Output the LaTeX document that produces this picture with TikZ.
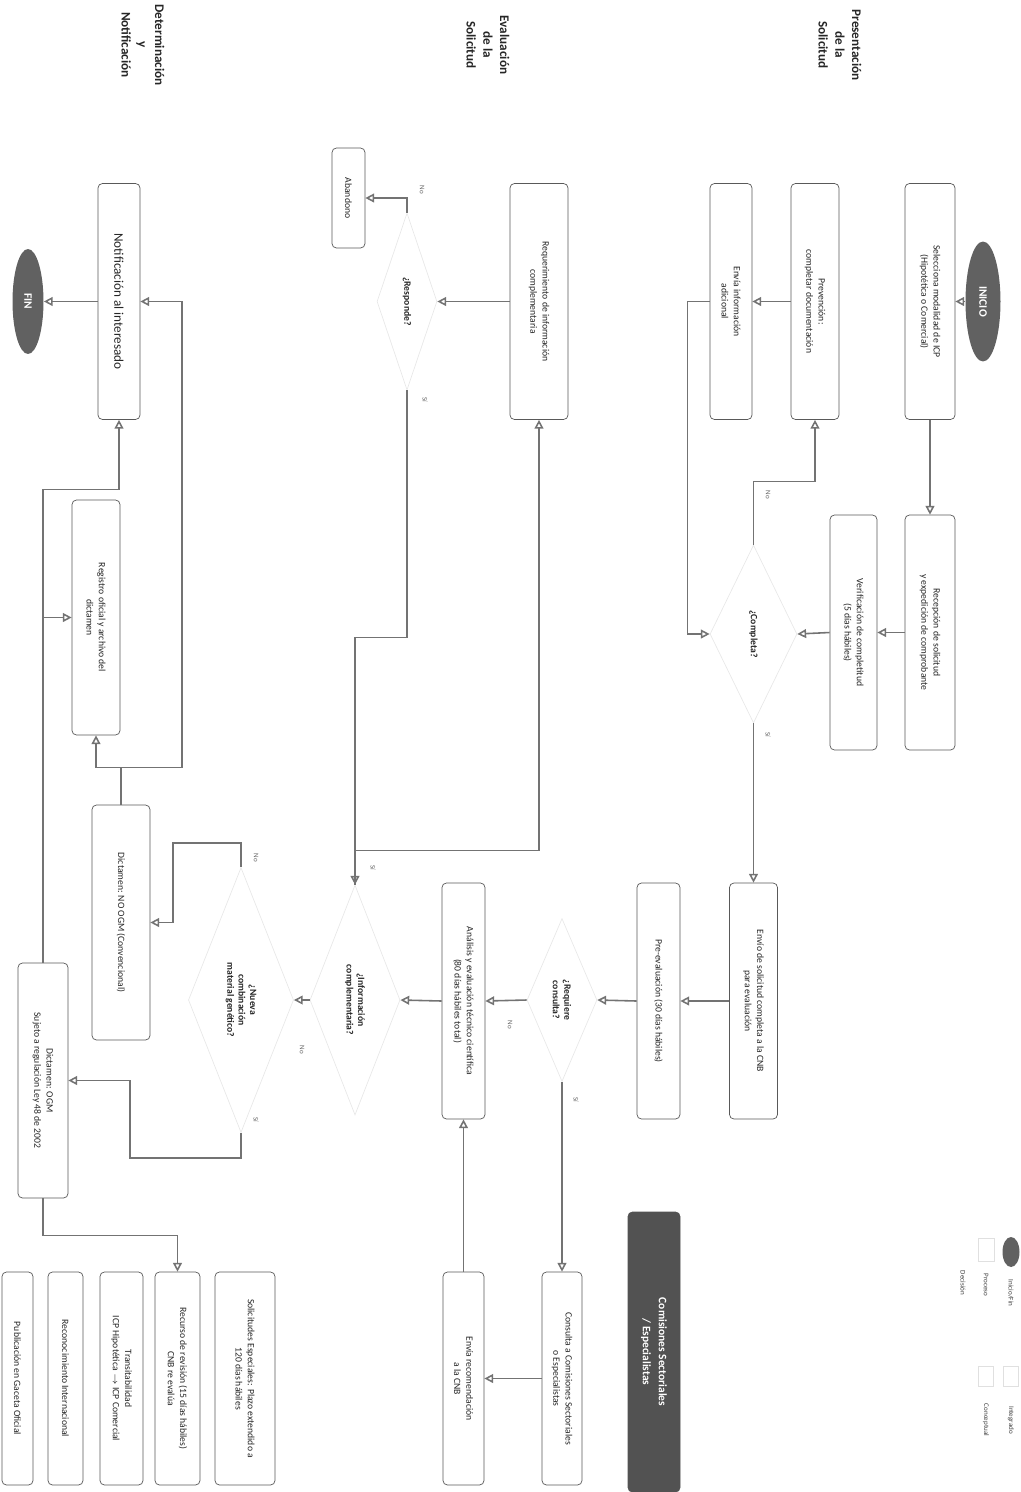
\documentclass[tikz,border=0pt]{standalone}
\usepackage{fontspec}
\setmainfont{Carlito}
\usetikzlibrary{arrows.meta,shapes.geometric,positioning,calc}

\begin{document}
\begin{tikzpicture}[x=0.02cm,y=-0.02cm,
  box/.style={draw=black!65, rounded corners=2.5pt, fill=white, rotate=-90, align=center,
    text=black!85, font=\fontsize{5.5}{7}\selectfont, inner sep=1pt, minimum width=4.72cm},
  ask/.style={diamond, draw=black!9, rotate=-90, align=center, text=black!85,
    font=\fontsize{5.5}{6.5}\selectfont\bfseries, inner sep=0pt},
  term/.style={ellipse, fill=black!62, text=white, rotate=-90,
    font=\fontsize{6.5}{7}\selectfont\bfseries, inner sep=0pt},
  lane/.style={rotate=-90, align=center, text=black!85, font=\fontsize{7.5}{9.5}\selectfont\bfseries},
  arr/.style={draw=black!55, line width=0.9pt, -{Triangle[open, length=5pt, width=5pt]}},
  tag/.style={rotate=-90, font=\fontsize{4}{4}\selectfont, text=black!60}]
\useasboundingbox (0,0) rectangle (1021,1492);
% lanes
\node[lane] (hPres) at (840,45) {Presentación\\de la\\Solicitud};
\node[lane] (hEval) at (488,45) {Evaluación\\de la\\Solicitud};
\node[lane] (hDet) at (143,45) {Determinación\\y\\Notificación};
% presentacion
\node[term, minimum width=2.4cm, minimum height=0.7cm] (inicio) at (983,301.5) {INICIO};
\node[box, minimum height=1cm] (selec) at (930,301.5) {Selecciona modalidad de ICP\\(Hipotética o Comercial)};
\node[box, minimum height=0.96cm] (prev) at (815,301.5) {Prevención:\\completar documentación};
\node[box, minimum height=0.84cm] (envinfo) at (731,301.5) {Envía información\\adicional};
\node[box, minimum width=4.7cm, minimum height=1cm] (recep) at (930,632.5) {Recepción de solicitud\\y expedición de comprobante};
\node[box, minimum width=4.7cm, minimum height=0.94cm] (verif) at (853.5,632.5) {Verificación de completitud\\(5 días hábiles)};
\node[ask, minimum width=3.56cm, minimum height=1.74cm] (completa) at (753.5,634) {¿Completa?};
% evaluacion
\node[box, minimum height=0.96cm] (envio) at (753.5,1001) {Envío de solicitud completa a la CNB\\para evaluación};
\node[box, minimum height=0.86cm] (preev) at (658.5,1001) {Pre-evaluación (30 días hábiles)};
\node[ask, minimum width=3.26cm, minimum height=1.4cm] (requiere) at (562,1000) {¿Requiere\\consulta?};
\node[box, minimum height=0.86cm] (analisis) at (463.5,1001) {Análisis y evaluación técnico científica\\(80 días hábiles total)};
\node[box, minimum width=4.26cm, minimum height=0.8cm] (consulta) at (562,1378.5) {Consulta a Comisiones Sectoriales\\o Especialistas};
\node[box, minimum width=4.26cm, minimum height=0.82cm] (envrec) at (463.5,1378.5) {Envía recomendación\\a la CNB};
\node[box, fill=black!68, draw=black!68, text=white, minimum width=5.6cm, minimum height=1.04cm,
  font=\fontsize{6.5}{9}\selectfont\bfseries] (comis) at (654,1352) {Comisiones Sectoriales\\/ Especialistas};
\node[box, minimum height=1.16cm] (requerim) at (539,301.5) {Requerimiento de información\\complementaria};
\node[ask, minimum width=3.54cm, minimum height=1.2cm] (responde) at (407,301.5) {¿Responde?};
\node[box, minimum width=2cm, minimum height=0.66cm] (abandono) at (348.5,198) {Abandono};
\node[ask, minimum width=4.6cm, minimum height=1.8cm] (infocomp) at (355,1000) {¿Información\\complementaria?};
% determinacion
\node[ask, minimum width=5.3cm, minimum height=1.96cm] (nueva) at (241,1000) {¿Nueva\\combinación\\material genético?};
\node[box, minimum height=0.84cm, font=\fontsize{7.5}{9}\selectfont] (notif) at (119,301.5) {Notificación al interesado};
\node[term, minimum width=2.1cm, minimum height=0.62cm] (fin) at (28,301.5) {FIN};
\node[box, minimum width=4.7cm, minimum height=0.96cm] (registro) at (96,617.5) {Registro oficial y archivo del\\dictamen};
\node[box, minimum width=4.7cm, minimum height=1.16cm] (noogm) at (121,922.5) {Dictamen: NO OGM (Convencional)};
\node[box, minimum width=4.7cm, minimum height=1cm] (ogm) at (43,1080.5) {Dictamen: OGM\\Sujeto a regulación Ley 48 de 2002};
% notas
\node[box, minimum width=4.26cm, minimum height=1.2cm] (solesp) at (245,1378.5) {Solicitudes Especiales: Plazo extendido a\\120 días hábiles};
\node[box, minimum width=4.26cm, minimum height=0.9cm] (recurso) at (177.5,1378.5) {Recurso de revisión (15 días hábiles)\\CNB re evalúa};
\node[box, minimum width=4.26cm, minimum height=0.86cm] (transit) at (121.5,1378.5) {Transitabilidad\\ICP Hipotética $\rightarrow$ ICP Comercial};
\node[box, minimum width=4.26cm, minimum height=0.7cm] (recon) at (65.5,1378.5) {Reconocimiento Internacional};
\node[box, minimum width=4.26cm, minimum height=0.62cm] (public) at (17.5,1378.5) {Publicación en Gaceta Oficial};
% leyenda
\node[term, minimum width=0.6cm, minimum height=0.34cm] (legT) at (1011,1252) {};
\node[box, draw=black!12, rounded corners=0pt, minimum width=0.45cm, minimum height=0.32cm] (legP) at (986,1250) {};
\node[box, draw=black!12, rounded corners=0pt, minimum width=0.4cm, minimum height=0.3cm] (legI) at (1011,1376) {};
\node[box, draw=black!12, rounded corners=0pt, minimum width=0.4cm, minimum height=0.3cm] (legC) at (986,1376) {};
\foreach \px/\py/\t [count=\i] in {1011/1293/{Inicio/Fin}, 986/1285/Proceso, 963/1283/Decisión,
  1011/1420/Integrado, 986/1420/Conceptual} {
  \node[tag, text=black!75] (leg\i) at (\px,\py) {\t};
}
% flujo presentacion
\draw[arr] (inicio.south) -- (selec.north);
\draw[arr] (selec.east) -- (recep.west);
\draw[arr] (recep.south) -- (verif.north);
\draw[arr] (verif.south) -- (completa.north);
\draw[arr] (completa.west) -- ++(0,-63) -| (prev.east);
\draw[arr] (prev.south) -- (envinfo.north);
\draw[arr] (envinfo.south) -- ++(-22,0) |- (completa.south);
\draw[arr] (completa.east) -- (envio.west);
% flujo evaluacion
\draw[arr] (envio.south) -- (preev.north);
\draw[arr] (preev.south) -- (requiere.north);
\draw[arr] (requiere.south) -- (analisis.north);
\draw[arr] (requiere.east) -- (consulta.west);
\draw[arr] (consulta.south) -- (envrec.north);
\draw[arr] (envrec.west) -- (analisis.east);
\draw[arr] (analisis.south) -- (infocomp.north);
\draw[arr] (requerim.south) -- (responde.north);
\draw[arr] (responde.west) |- (abandono.north);
\draw[arr] (responde.east) -- ++(0,247) -| (infocomp.west);
\draw[arr] (infocomp.west) -- ++(0,-34) -| (requerim.east);
\draw[arr] (infocomp.south) -- (nueva.north);
% flujo determinacion
\draw[arr] (nueva.west) -- ++(0,-24) -- ++(-68,0) |- (noogm.north);
\draw[arr] (nueva.east) -- ++(0,25) -- ++(-111,0) |- (ogm.north);
\draw[arr] (ogm.west) -- ++(0,-473) -| (notif.east);
\draw[arr] (ogm.west |- registro.south) -- (registro.south);
\draw[arr] (noogm.west) -- ++(0,-37) -| (registro.east);
\draw[arr] (noogm.west) -- ++(0,-37) -- ++(61,0) |- (notif.north);
\draw[arr] (notif.south) -- (fin.north);
\draw[arr] (ogm.east) -- ++(0,37) -| (recurso.west);
% etiquetas Si/No
\foreach \px/\py/\t [count=\i] in {768/495/No, 768/735/Sí, 422/190/No, 425/400/Sí, 510/1025/No,
  576/1100/Sí, 373/868/Sí, 302/1050/No, 256/858/No, 256/1120/Sí} {
  \node[tag] (sn\i) at (\px,\py) {\t};
}
\end{tikzpicture}
\end{document}
